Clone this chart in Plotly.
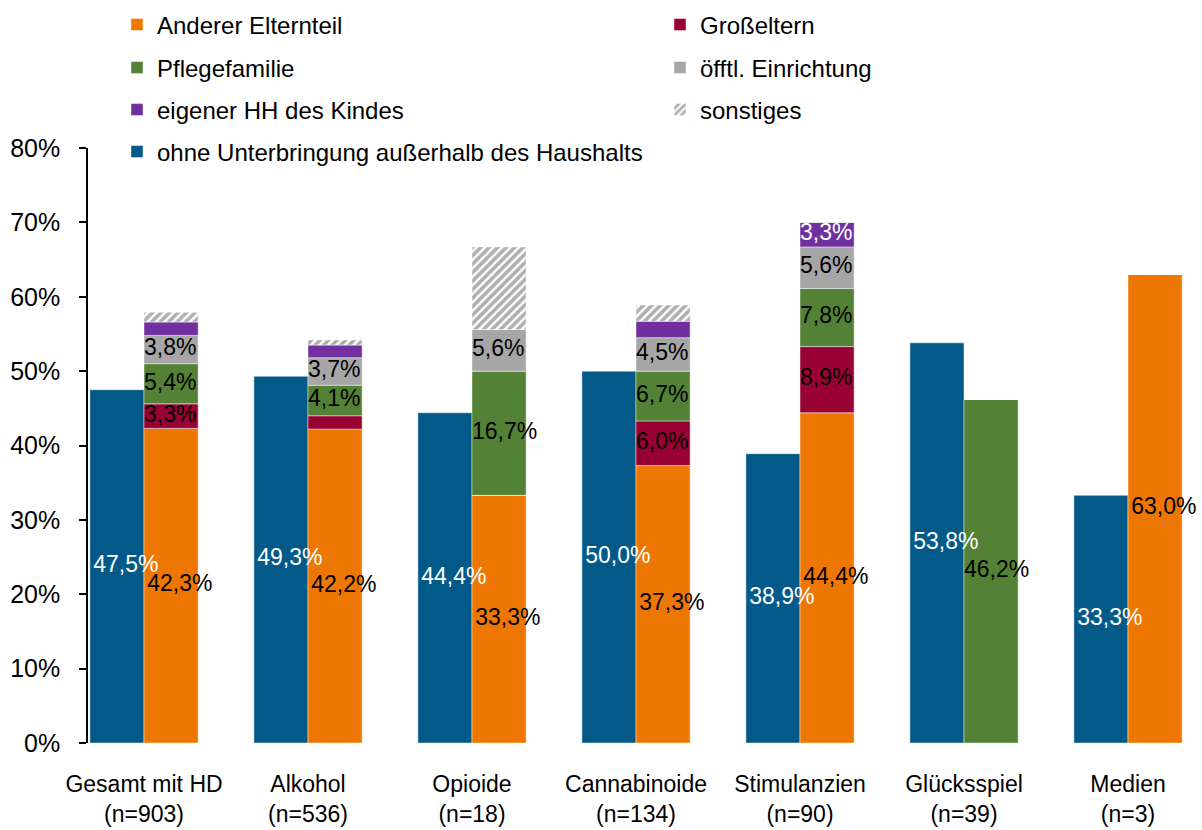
import numpy as np
import plotly.graph_objects as go

# ---------------- data ----------------
categories = ["Gesamt mit HD<br>(n=903)", "Alkohol<br>(n=536)", "Opioide<br>(n=18)",
              "Cannabinoide<br>(n=134)", "Stimulanzien<br>(n=90)", "Glücksspiel<br>(n=39)",
              "Medien<br>(n=3)"]

ohne_unterbringung = [47.5, 49.3, 44.4, 50.0, 38.9, 53.8, 33.3]
anderer_elternteil = [42.3, 42.2, 33.3, 37.3, 44.4, 0.0, 63.0]
grosseltern = [3.3, 1.8, 0.0, 6.0, 8.9, 0.0, 0.0]
pflegefamilie = [5.4, 4.1, 16.7, 6.7, 7.8, 46.2, 0.0]
oeffentl_einrichtung = [3.8, 3.7, 5.6, 4.5, 5.6, 0.0, 0.0]
eigener_hh = [1.8, 1.7, 0.0, 2.2, 3.3, 0.0, 0.0]
sonstiges = [1.3, 0.7, 11.1, 2.2, 0.0, 0.0, 0.0]

y_ticks = [0, 10, 20, 30, 40, 50, 60, 70, 80]

# ---------------- styling ----------------
FONT = "Liberation Sans, Arial, sans-serif"
C_BLUE = "#035A88"
C_ORANGE = "#EE7703"
C_RED = "#990033"
C_GREEN = "#538135"
C_GRAY = "#A6A6A6"
C_PURPLE = "#7030A0"
OUTLINE = dict(color="rgba(255,255,255,0.45)", width=1)

BAR_W = 0.33
LABEL_PAD = 0.02
LABEL_SIZE = 23
LEGEND_SIZE = 24

idx = np.arange(len(categories))


def fmt(v):
    return f"{v:.1f}".replace(".", ",") + "%"


fig = go.Figure()
labels = []  # (x_left, y_mid, texts, show, color)

# left bar: ohne Unterbringung
fig.add_trace(go.Bar(
    x=idx, y=ohne_unterbringung, name="ohne Unterbringung außerhalb des Haushalts",
    marker=dict(color=C_BLUE, line=OUTLINE),
    offset=-BAR_W, width=BAR_W, legend="legend7", hoverinfo="skip",
))
labels.append((idx - BAR_W + LABEL_PAD, np.array(ohne_unterbringung) / 2,
               [fmt(v) for v in ohne_unterbringung], [True] * len(idx), "white"))

# right bar: stacked placements
stack = [
    ("Anderer Elternteil", anderer_elternteil, C_ORANGE, "black", "legend", None, LABEL_PAD),
    ("Großeltern", grosseltern, C_RED, "black", "legend2", None, 0.0),
    ("Pflegefamilie", pflegefamilie, C_GREEN, "black", "legend3", None, 0.0),
    ("öfftl. Einrichtung", oeffentl_einrichtung, C_GRAY, "black", "legend4", None, 0.0),
    ("eigener HH des Kindes", eigener_hh, C_PURPLE, "white", "legend5", None, 0.0),
    ("sonstiges", sonstiges, "white", "black", "legend6", "/", 0.0),
]

base = np.zeros(len(categories))
for name, vals, color, tcolor, leg, pattern, pad in stack:
    vals = np.array(vals, dtype=float)
    marker = dict(color=color, line=OUTLINE)
    if pattern:
        marker["pattern"] = dict(shape=pattern, fgcolor="#5f5f5f", bgcolor="white",
                                 size=6, solidity=0.6)
    fig.add_trace(go.Bar(
        x=idx, y=vals, base=base.copy(), name=name,
        marker=marker, offset=0, width=BAR_W,
        legend=leg, hoverinfo="skip",
    ))
    show = [(v >= 3) and pattern is None for v in vals]
    labels.append((idx + pad, base + vals / 2, [fmt(v) for v in vals], show, tcolor))
    base = base + vals

# data labels drawn on top of all bars
for xs, ys, texts, show, tcolor in labels:
    sel = [i for i, s in enumerate(show) if s]
    fig.add_trace(go.Scatter(
        x=[xs[i] for i in sel], y=[ys[i] for i in sel], text=[texts[i] for i in sel],
        mode="text", textposition="middle right",
        textfont=dict(color=tcolor, size=LABEL_SIZE, family=FONT),
        showlegend=False, hoverinfo="skip", cliponaxis=False,
    ))

# plot area geometry (pixels) for positioning legends
L, R, T, B = 88, 12, 148, 87
W, H = 1202, 830
pw, ph = W - L - R, H - T - B


def px_x(px):
    return (px - L) / pw


def px_y(py):
    return (H - B - py) / ph


col_x = [px_x(117), px_x(660)]
row_y = [px_y(25), px_y(68), px_y(110), px_y(152)]

legend_common = dict(orientation="h", xanchor="left", yanchor="middle",
                     bgcolor="rgba(0,0,0,0)", borderwidth=0,
                     font=dict(family=FONT, size=LEGEND_SIZE, color="black"))
positions = {
    "legend": (col_x[0], row_y[0]),
    "legend2": (col_x[1], row_y[0]),
    "legend3": (col_x[0], row_y[1]),
    "legend4": (col_x[1], row_y[1]),
    "legend5": (col_x[0], row_y[2]),
    "legend6": (col_x[1], row_y[2]),
    "legend7": (col_x[0], row_y[3]),
}
legend_layout = {k: dict(legend_common, x=v[0], y=v[1]) for k, v in positions.items()}

n = len(categories)
fig.update_layout(
    width=W, height=H,
    margin=dict(l=L, r=R, t=T, b=B, pad=0, autoexpand=False),
    paper_bgcolor="white", plot_bgcolor="white",
    barmode="overlay",
    font=dict(family=FONT, color="black"),
    showlegend=True,
    xaxis=dict(range=[-0.3415, n - 1 + 0.378], tickvals=idx, ticktext=categories,
               showline=False, showgrid=False, zeroline=False, ticks="",
               automargin=False,
               tickfont=dict(size=23, family=FONT, color="black"),
               ticklabelstandoff=25),
    yaxis=dict(range=[0, 80], tickvals=y_ticks, ticktext=[f"{v}%" for v in y_ticks],
               showline=True, linecolor="black", linewidth=1.5,
               ticks="outside", ticklen=7, tickcolor="black", tickwidth=1.5,
               showgrid=False, zeroline=False, automargin=False,
               tickfont=dict(size=25, family=FONT, color="black"),
               ticklabelstandoff=14),
    **legend_layout,
)

fig.write_html("out.html", config={"displayModeBar": False},
               post_script="document.body.style.margin='0';")
